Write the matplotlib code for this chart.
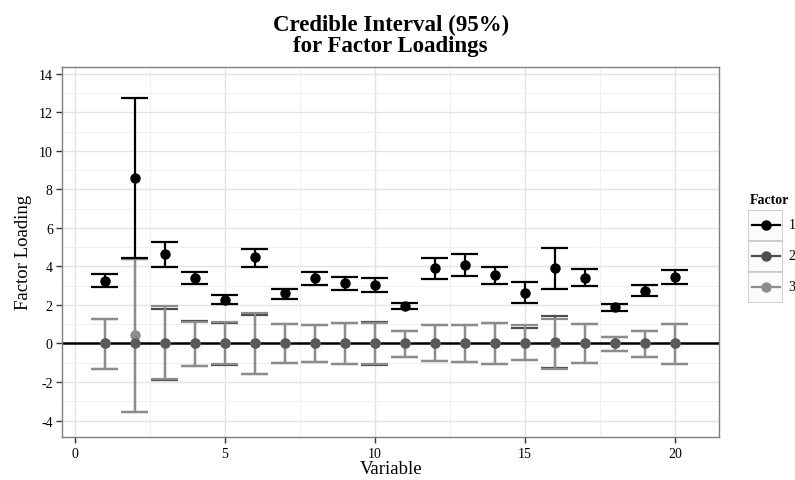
import matplotlib
matplotlib.use("Agg")
import matplotlib.pyplot as plt
import numpy as np
from matplotlib.patches import Rectangle

plt.rcParams["font.family"] = ["Liberation Serif", "DejaVu Serif"]
plt.rcParams["axes.unicode_minus"] = False

variables = np.arange(1, 21)

# factor 1 loadings (posterior mean and 95% bounds)
f1_mean = [3.26, 8.60, 4.65, 3.39, 2.28, 4.48, 2.61, 3.39, 3.14, 3.04,
           1.95, 3.92, 4.08, 3.54, 2.64, 3.92, 3.42, 1.88, 2.73, 3.45]
f1_low = [2.95, 4.45, 3.99, 3.07, 2.04, 3.99, 2.31, 3.02, 2.80, 2.69,
          1.78, 3.35, 3.51, 3.11, 2.09, 2.85, 2.97, 1.70, 2.45, 3.11]
f1_high = [3.61, 12.74, 5.27, 3.71, 2.54, 4.93, 2.85, 3.73, 3.47, 3.42,
           2.12, 4.44, 4.63, 3.96, 3.19, 4.96, 3.85, 2.07, 3.02, 3.83]

# factor 2
f2_mean = [0, 0, 0, 0, 0, 0, 0, 0, 0, 0,
           0, 0, 0, 0, 0, 0.06, 0, 0, 0, 0]
f2_low = [-1.31, -3.58, -1.90, -1.15, -1.10, -1.58, -1.00, -0.96, -1.08, -1.10,
          -0.68, -0.91, -0.98, -1.08, -0.87, -1.25, -1.01, -0.37, -0.68, -1.05]
f2_high = [1.26, 4.38, 1.77, 1.15, 1.05, 1.50, 1.03, 0.98, 1.05, 1.10,
           0.67, 0.94, 0.98, 1.08, 0.83, 1.44, 1.00, 0.35, 0.67, 1.03]

# factor 3
f3_mean = [0, 0.44, 0, 0, 0, 0, 0, 0, 0, 0,
           0, 0, 0, 0, 0, 0, 0, 0.03, 0, 0]
f3_low = [-1.31, -3.58, -1.85, -1.17, -1.08, -1.58, -1.00, -0.96, -1.08, -1.09,
          -0.68, -0.91, -0.97, -1.07, -0.85, -1.30, -1.01, -0.37, -0.68, -1.04]
f3_high = [1.26, 4.38, 1.96, 1.12, 1.12, 1.56, 1.03, 0.98, 1.05, 1.08,
           0.67, 0.94, 0.98, 1.08, 0.98, 1.26, 1.00, 0.35, 0.67, 1.03]

factor_labels = ["1", "2", "3"]
colors = ["#000000", "#4d4d4d", "#8c8c8c"]

fig = plt.figure(figsize=(7.95, 4.81), dpi=100)
ax = fig.add_axes([0.0786, 0.0894, 0.8258, 0.7699])

ax.set_xlim(-0.417, 21.47)
ax.set_ylim(-4.857, 14.38)

ax.set_xticks([0, 5, 10, 15, 20])
ax.set_xticks(np.arange(2.5, 21, 5), minor=True)
ax.set_yticks(np.arange(-4, 15, 2))
ax.set_yticks(np.arange(-3, 15, 2), minor=True)
ax.grid(which="major", color="#e3e3e3", linewidth=1.0)
ax.grid(which="minor", color="#f0f0f0", linewidth=0.8)
ax.set_axisbelow(True)
for s in ax.spines.values():
    s.set_color("#7f7f7f")
    s.set_linewidth(1.0)
ax.tick_params(which="major", length=4, width=1, color="#333333",
               labelsize=10, pad=3)
ax.tick_params(which="minor", length=0)

ax.axhline(0, color="black", linewidth=1.8, zorder=2)

half = 0.45
series = [(f2_mean, f2_low, f2_high), (f3_mean, f3_low, f3_high),
          (f1_mean, f1_low, f1_high)]
series_colors = [colors[1], colors[2], colors[0]]
for k, ((m, lo, hi), c) in enumerate(zip(series, series_colors)):
    ax.vlines(variables, lo, hi, color=c, linewidth=1.6, zorder=3 + k)
    ax.hlines(lo, variables - half, variables + half, color=c,
              linewidth=1.6, zorder=3 + k)
    ax.hlines(hi, variables - half, variables + half, color=c,
              linewidth=1.6, zorder=3 + k)
# points: factor 3 then 2 then 1
ax.plot(variables, f3_mean, "o", color=colors[2], markersize=6.5, zorder=7)
ax.plot(variables, f2_mean, "o", color="#5a5a5a", markersize=6.5, zorder=7)
ax.plot(variables, f1_mean, "o", color=colors[0], markersize=6.5, zorder=8)

ax.set_xlabel("Variable", fontsize=13.5, labelpad=0)
ax.set_ylabel("Factor Loading", fontsize=13.5, labelpad=5)
ax.set_title("Credible Interval (95%)\nfor Factor Loadings", fontsize=16.5,
             fontweight="bold", linespacing=1.05, pad=11)

# legend drawn as ggplot-style key boxes
leg = fig.add_axes([748 / 795, 1 - 303.5 / 481, 35 / 795, 93 / 481])
leg.set_xlim(0, 1)
leg.set_ylim(0, 3)
leg.axis("off")
for i, (lab, c) in enumerate(zip(factor_labels, colors)):
    y0 = 2 - i
    leg.add_patch(Rectangle((0, y0), 1, 1, facecolor="#fbfbfb",
                            edgecolor="#c8c8c8", linewidth=1.2))
    leg.plot([0.1, 0.9], [y0 + 0.5, y0 + 0.5], color=c, linewidth=1.6)
    leg.plot([0.5], [y0 + 0.5], "o", color=c, markersize=6.5)
    leg.text(1.15, y0 + 0.5, lab, fontsize=10, va="center", ha="left")
leg.text(0.05, 3.12, "Factor", fontsize=10, fontweight="bold",
         va="bottom", ha="left")

fig.savefig("out.png", dpi=100)
